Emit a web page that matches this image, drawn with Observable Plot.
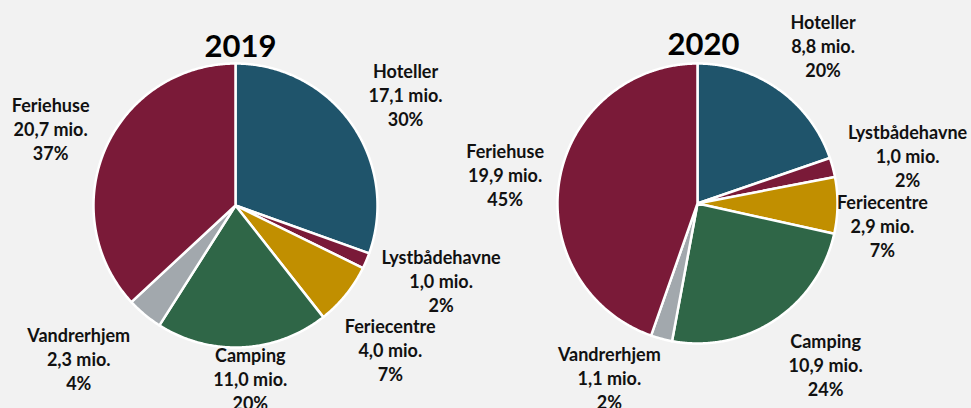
<!DOCTYPE html>
<html>
<head>
<meta charset="utf-8">
<script src="https://cdn.jsdelivr.net/npm/d3@7"></script>
<script src="https://cdn.jsdelivr.net/npm/@observablehq/plot@0.6"></script>
<style>
  html, body { margin: 0; padding: 0; background: #f2f2f2; }
  #chart svg { display: block; }
</style>
</head>
<body>
<div id="chart"></div>
<script>
// ---- Data ----
const categories = ["Hoteller", "Lystbådehavne", "Feriecentre", "Camping", "Vandrerhjem", "Feriehuse"];
const years = ["2019", "2020"];
const values2019 = [17.1, 1.0, 4.0, 11.0, 2.3, 20.7];
const values2020 = [8.8, 1.0, 2.9, 10.9, 1.1, 19.9];

// ---- Styling / layout ----
const colors = ["#1f546b", "#7a1a38", "#c18f00", "#2f6647", "#a2a8ad", "#7a1a38"];
const pies = [
  {year: "2019", values: values2019, cx: 235, cy: 205, r: 142, titleX: 240, titleY: 47,
   labelR: [1.43, 1.54, 1.49, 1.22, 1.54, 1.41], labelDA: [2, -3, 4, -2, 6, -1]},
  {year: "2020", values: values2020, cx: 697, cy: 203, r: 140, titleX: 703, titleY: 45,
   labelR: [1.44, 1.54, 1.33, 1.47, 1.39, 1.39], labelDA: [3, 2, 6, -5, 12, -1]}
];

const fmt = v => v.toFixed(1).replace(".", ",") + " mio.";

const slicePts = [];
const labels = [];
const titles = [];
for (const p of pies) {
  const total = d3.sum(p.values);
  let cum = 0;
  titles.push({x: p.titleX, y: p.titleY, text: p.year});
  p.values.forEach((v, i) => {
    const a0 = cum / total * 2 * Math.PI;
    const a1 = (cum + v) / total * 2 * Math.PI;
    cum += v;
    const key = p.year + "-" + i;
    slicePts.push({key, fillColor: colors[i], x: p.cx, y: p.cy});
    const n = Math.max(2, Math.ceil((a1 - a0) / (Math.PI / 360)));
    for (let k = 0; k <= n; k++) {
      const a = a0 + (a1 - a0) * k / n;
      slicePts.push({key, fillColor: colors[i], x: p.cx + p.r * Math.sin(a), y: p.cy - p.r * Math.cos(a)});
    }
    slicePts.push({key, fillColor: colors[i], x: p.cx, y: p.cy});
    const am = (a0 + a1) / 2 + p.labelDA[i] * Math.PI / 180;
    const lr = p.r * p.labelR[i];
    labels.push({
      x: p.cx + lr * Math.sin(am),
      y: p.cy - lr * Math.cos(am),
      text: categories[i] + "\n" + fmt(v) + "\n" + Math.round(v / total * 100) + "%"
    });
  });
}

const chart = Plot.plot({
  width: 971,
  height: 408,
  margin: 0,
  style: {background: "#f2f2f2", fontFamily: "Lato, 'Open Sans', sans-serif"},
  x: {domain: [0, 971], range: [0, 971], axis: null},
  y: {domain: [0, 408], range: [0, 408], axis: null},
  color: {type: "identity"},
  marks: [
    Plot.line(slicePts, {x: "x", y: "y", z: "key", fill: "fillColor", stroke: "#ffffff",
      strokeWidth: 2.5, strokeLinejoin: "round", curve: "linear"}),
    Plot.text(labels, {x: "x", y: "y", text: "text", fontSize: 18, fontWeight: "bold",
      lineHeight: 1.33, fill: "#111111", textAnchor: "middle"}),
    Plot.text(titles, {x: "x", y: "y", text: "text", fontSize: 31, fontWeight: "bold",
      fill: "#000000", textAnchor: "middle"})
  ]
});
document.getElementById("chart").appendChild(chart);
</script>
</body>
</html>
